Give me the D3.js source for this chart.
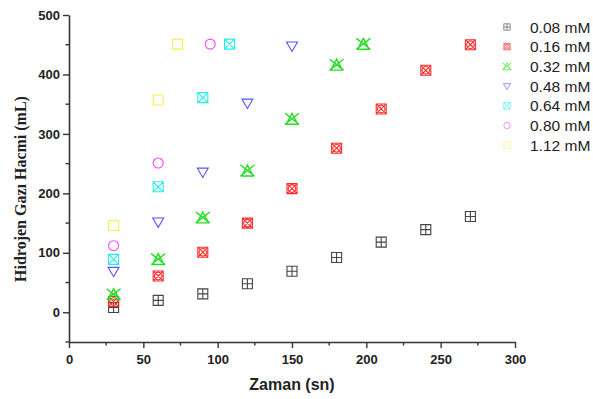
<!DOCTYPE html>
<html><head><meta charset="utf-8">
<script src="https://cdn.jsdelivr.net/npm/d3@7"></script>
<style>body{margin:0;background:#fff}</style>
</head><body>
<script>
const seriesNames = ["0.08 mM","0.16 mM","0.32 mM","0.48 mM","0.64 mM","0.80 mM","1.12 mM"];
const x008 = [30,60,90,120,150,180,210,240,270];
const y008 = [8,20,31,48,69,92,118,139,161];
const x016 = [30,60,90,120,150,180,210,240,270];
const y016 = [18,61,101,150,208,276,342,407,450];
const x032 = [30,60,90,120,150,180,198];
const y032 = [30,89,159,238,325,416,451];
const x048 = [30,60,90,120,150];
const y048 = [69,152,236,352,448];
const x064 = [30,60,90,108];
const y064 = [89,211,361,451];
const x080 = [30,60,95];
const y080 = [112,251,451];
const x112 = [30,60,73];
const y112 = [146,357,451];
const xTicks = [0,50,100,150,200,250,300];
const yTicks = [0,100,200,300,400,500];

const colors = ["#444444","#ff2a2a","#22dd22","#5555ff","#22eeee","#ff44ff","#ffee44"];
const shapes = ["sqplus","sqcircx","trix","tridown","sqx","circle","square"];
const xs = [x008,x016,x032,x048,x064,x080,x112];
const ys = [y008,y016,y032,y048,y064,y080,y112];

const W=593,H=399;
const svg=d3.select("body").append("svg").attr("width",W).attr("height",H);
const x=d3.scaleLinear().domain([0,300]).range([69,515]);
const y=d3.scaleLinear().domain([-50,500]).range([342,15]);

function shapePath(s,r){
  const p=d3.path();
  if(s==="square"||s==="sqplus"||s==="sqx"||s==="sqcircx"){
    p.rect(-r,-r,2*r,2*r);
    if(s==="sqplus"){p.moveTo(0,-r);p.lineTo(0,r);p.moveTo(-r,0);p.lineTo(r,0);}
    if(s==="sqx"||s==="sqcircx"){p.moveTo(-r,-r);p.lineTo(r,r);p.moveTo(r,-r);p.lineTo(-r,r);}
    if(s==="sqcircx"){p.moveTo(r*0.75,0);p.arc(0,0,r*0.75,0,2*Math.PI);}
  } else if(s==="circle"){
    p.moveTo(r,0);p.arc(0,0,r,0,2*Math.PI);
  } else if(s==="tridown"){
    const h=r*1.1;
    p.moveTo(-h,-h*0.7);p.lineTo(h,-h*0.7);p.lineTo(0,h);p.closePath();
  } else if(s==="trix"){
    const h=r*1.15;
    p.moveTo(0,-h);p.lineTo(h,h*0.9);p.lineTo(-h,h*0.9);p.closePath();
    const k=r*1.4;
    p.moveTo(-k,-h);p.lineTo(k,h*0.9);p.moveTo(k,-h);p.lineTo(-k,h*0.9);
  }
  return p.toString();
}

// axes
const gx=svg.append("g").attr("transform","translate(0,342)");
gx.call(d3.axisBottom(x).tickValues(xTicks).tickSize(6).tickSizeOuter(0).tickFormat(d3.format("d")));
gx.append("g").selectAll("line").data(d3.range(25,300,50)).join("line")
  .attr("x1",d=>x(d)).attr("x2",d=>x(d)).attr("y1",0).attr("y2",3.5);
const gy=svg.append("g").attr("transform","translate(69,0)");
gy.call(d3.axisLeft(y).tickValues(yTicks).tickSize(6).tickSizeOuter(0).tickFormat(d3.format("d")));
gy.append("g").selectAll("line").data(d3.range(-50,500,100)).join("line")
  .attr("x1",0).attr("x2",-3.5).attr("y1",d=>y(d)).attr("y2",d=>y(d));
svg.selectAll(".domain").attr("stroke","#333").attr("stroke-width",1.6);
svg.selectAll(".tick line").attr("stroke","#333").attr("stroke-width",1.4);
gx.selectAll("g line").attr("stroke","#333").attr("stroke-width",1.4);
gy.selectAll("g line").attr("stroke","#333").attr("stroke-width",1.4);
svg.selectAll(".tick text").attr("font-family","Liberation Sans, Arial, sans-serif")
  .attr("font-weight","bold").attr("font-size",13).attr("fill","#222");
gx.selectAll(".tick text").attr("dy","1.0em");

// titles
svg.append("text").attr("x",292).attr("y",390).attr("text-anchor","middle")
  .attr("font-family","Liberation Sans, Arial, sans-serif").attr("font-weight","bold")
  .attr("font-size",16).attr("fill","#222").text("Zaman (sn)");
svg.append("text").attr("transform","translate(26,189) rotate(-90)").attr("text-anchor","middle")
  .attr("font-family","Liberation Serif, Times New Roman, serif").attr("font-weight","bold")
  .attr("font-size",16).attr("fill","#222").text("Hidrojen Gazı Hacmi (mL)");

// points
seriesNames.forEach((n,i)=>{
  const data=xs[i].map((v,j)=>[v,ys[i][j]]);
  svg.append("g").selectAll("path").data(data).join("path")
    .attr("transform",d=>`translate(${x(d[0])},${y(d[1])})`)
    .attr("d",shapePath(shapes[i],5))
    .attr("fill","none").attr("stroke",colors[i]).attr("stroke-width",i===2?1.4:1.1);
});

// legend
const lg=svg.append("g");
seriesNames.forEach((n,i)=>{
  const yy=27+i*19.7;
  lg.append("path").attr("transform",`translate(507,${yy})`).attr("d",shapePath(shapes[i],3.2))
    .attr("fill","none").attr("stroke",colors[i]).attr("stroke-opacity",0.6).attr("stroke-width",1);
  lg.append("text").attr("x",530).attr("y",yy+5.5).attr("font-family","Liberation Sans, Arial, sans-serif")
    .attr("font-size",15.5).attr("fill","#222").text(n);
});
</script>
</body></html>
